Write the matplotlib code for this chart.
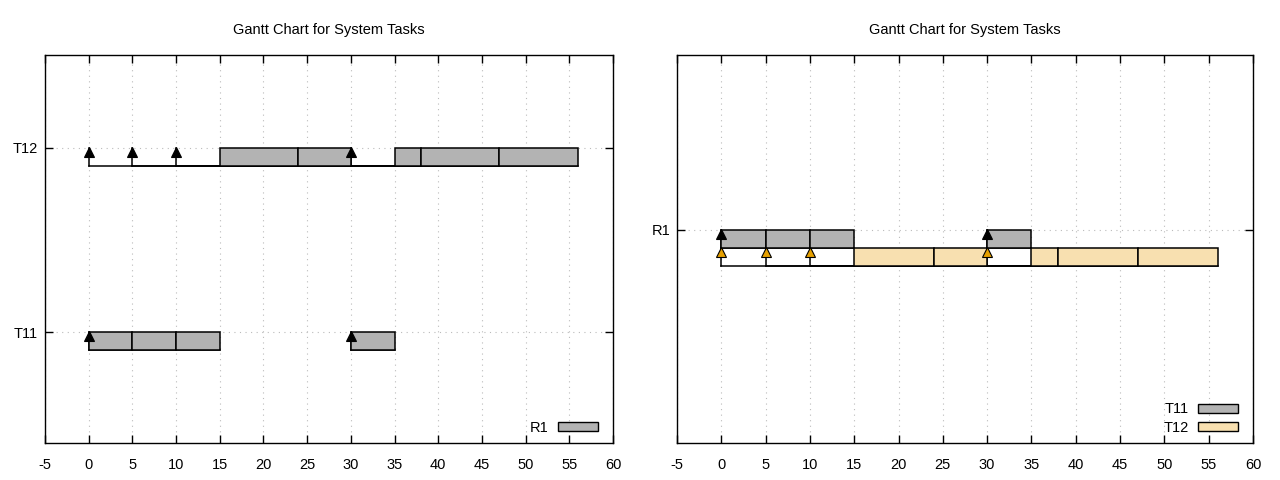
import matplotlib
matplotlib.use("Agg")
import matplotlib.pyplot as plt
from matplotlib.patches import Patch
from matplotlib.ticker import MultipleLocator

plt.rcParams['font.family'] = ['Liberation Sans', 'DejaVu Sans']
plt.rcParams['font.size'] = 10.5
plt.rcParams['axes.unicode_minus'] = False

# task data: arrivals, job finish times, execution slices
t11_arrivals = [0, 30]
t11_finish = [15, 35]
t11_slices = [(0, 5), (5, 10), (10, 15), (30, 35)]

t12_arrivals = [0, 5, 10, 30]
t12_finish = [24, 38, 47, 56]
t12_slices = [(15, 24), (24, 30), (35, 38), (38, 47), (47, 56)]

task_names = ["T11", "T12"]
resource_names = ["R1"]

GREY = "#b3b3b3"
TAN = "#f8e0b0"
ORANGE = "#e6a000"
H = 0.097


def draw_row(ax, top, arrivals, finish, slices, color, marker_color):
    bottom = top - H
    # waiting baseline from arrival to finish
    for a, f in zip(arrivals, finish):
        ax.plot([a, f], [bottom, bottom], color="black", lw=1.1, zorder=2)
        ax.plot([a, a], [bottom, top], color="black", lw=1.1, zorder=2)
    for s, e in slices:
        ax.add_patch(plt.Rectangle((s, bottom), e - s, H, facecolor=color,
                                   edgecolor="black", lw=1.1, zorder=3))
    ax.plot(arrivals, [top - 0.022] * len(arrivals), linestyle="none",
            marker="^", markersize=7, color=marker_color,
            markeredgecolor="black", markeredgewidth=0.8, zorder=4)


def style_axes(ax):
    ax.set_xlim(-5, 60)
    ax.xaxis.set_major_locator(MultipleLocator(5))
    ax.tick_params(direction="in", length=6, top=True, right=True, width=1)
    ax.tick_params(axis="x", pad=10.5)
    ax.tick_params(axis="y", pad=5)
    ax.grid(True, linestyle=(0, (1, 4)), color="#bbbbbb", lw=0.8)
    ax.set_axisbelow(True)
    for sp in ax.spines.values():
        sp.set_linewidth(1.0)
    ax.set_title("Gantt Chart for System Tasks", fontsize=10.5, pad=15)


fig = plt.figure(figsize=(12.8, 4.8), dpi=100)
ax1 = fig.add_axes([45 / 1280, 37 / 480, 568 / 1280, 388 / 480])
ax2 = fig.add_axes([677 / 1280, 37 / 480, 576 / 1280, 388 / 480])

# left: one row per task
draw_row(ax1, 1, t11_arrivals, t11_finish, t11_slices, GREY, "black")
draw_row(ax1, 2, t12_arrivals, t12_finish, t12_slices, GREY, "black")
ax1.set_ylim(0.397, 2.505)
ax1.set_yticks([1, 2])
ax1.set_yticklabels(task_names)
style_axes(ax1)
ax1.legend(handles=[Patch(facecolor=GREY, edgecolor="black", label="R1")],
           loc="lower right", bbox_to_anchor=(1.005, -0.024),
           markerfirst=False, frameon=False,
           handlelength=2.8, handleheight=0.55, borderaxespad=0.8,
           handletextpad=0.6)

# right: one row per resource, stacked tasks
draw_row(ax2, 1, t11_arrivals, t11_finish, t11_slices, GREY, "black")
draw_row(ax2, 1 - H, t12_arrivals, t12_finish, t12_slices, TAN, ORANGE)
ax2.set_ylim(-0.158, 1.951)
ax2.set_yticks([1])
ax2.set_yticklabels(resource_names)
style_axes(ax2)
ax2.legend(handles=[Patch(facecolor=GREY, edgecolor="black", label="T11"),
                    Patch(facecolor=TAN, edgecolor="black", label="T12")],
           loc="lower right", bbox_to_anchor=(1.005, -0.024),
           markerfirst=False, frameon=False,
           handlelength=2.8, handleheight=0.55, borderaxespad=0.8,
           handletextpad=0.6, labelspacing=0.3)

fig.savefig("out.png", dpi=100)
